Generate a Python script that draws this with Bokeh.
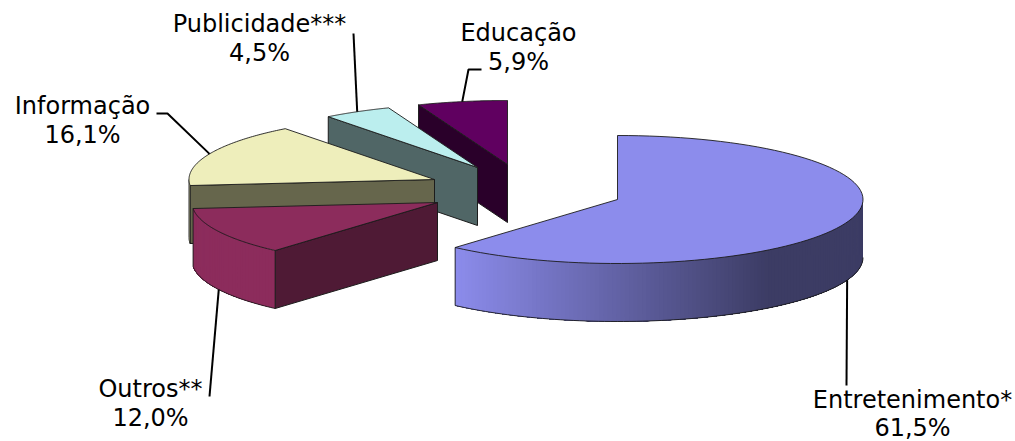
import numpy as np
from bokeh.plotting import figure
from bokeh.models import Range1d
from bokeh.core.properties import value
from bokeh.embed import file_html
from bokeh.resources import INLINE

# ---- data ----
categories = ["Entretenimento*", "Outros**", "Informação", "Publicidade***", "Educação"]
shares = [61.5, 12.0, 16.1, 4.5, 5.9]

# ---- style / layout (not data) ----
top_colors = ["#8c8cec", "#8c2c5c", "#eeeebb", "#bbeeee", "#600060"]
cut_colors = ["#3c3c64", "#4f1a35", "#66664c", "#506666", "#2a002a"]
centers_x = [617, 437, 434, 477, 507]
centers_y = [199, 202, 179, 167, 164]
RX, RY, DEPTH = 245.5, 64, 58
label_x = [912, 150, 82, 259, 518]
label_y = [399, 388, 105, 23, 32]
line_gap = [28, 29.5, 29.5, 29.5, 29.5]
FONT = "DejaVu Sans"
FONT_PX = "24px"
leader_from = [[(846, 385)], [(209, 396)], [(156, 113), (167, 113)], [(353, 33)], [(481, 69), (468, 69)]]
OUT = "#1c1c1c"

p = figure(width=1015, height=441, x_range=Range1d(0, 1015), y_range=Range1d(441, 0),
           x_axis_location=None, y_axis_location=None, toolbar_location=None,
           output_backend="svg", min_border=0, outline_line_color=None,
           background_fill_color="white", border_fill_color="white")
p.grid.visible = False


def arc(cx, cy, a, b, n=90):
    t = np.radians(np.linspace(a, b, n))
    return cx + RX * np.sin(t), cy - RY * np.cos(t)


def hexmix(c1, c2, t):
    a = np.array([int(c1[i:i + 2], 16) for i in (1, 3, 5)], float)
    b = np.array([int(c2[i:i + 2], 16) for i in (1, 3, 5)], float)
    m = a + (b - a) * t
    return "#%02x%02x%02x" % tuple(int(round(v)) for v in m)


def outline(xs, ys):
    p.line(list(xs), list(ys), line_color=OUT, line_width=1, line_alpha=0.9)


edges = np.concatenate([[0], np.cumsum(shares)]) * 3.6
anchors = []
for i in range(len(shares) - 1, -1, -1):
    a, b = edges[i], edges[i + 1]
    cx, cy = centers_x[i], centers_y[i]
    ex, ey = arc(cx, cy, a, b)

    # cut faces that turn towards the viewer
    if np.sin(np.radians(a)) < 0:
        rx, ry = arc(cx, cy, a, a, 1)
        qx = [cx, rx[0], rx[0], cx]
        qy = [cy, ry[0], ry[0] + DEPTH, cy + DEPTH]
        p.patch(qx, qy, fill_color=cut_colors[i], line_color=OUT, line_width=1, line_join="round")

    # outer rim, front half only; strips overlap so that no seams show
    lo, hi = max(a, 90), min(b, 270)
    if lo < hi:
        n = max(int(hi - lo), 2)
        ang = np.linspace(lo, hi, n + 1)
        for j in range(n):
            sx, sy = arc(cx, cy, hi if i != 0 else ang[j], ang[j] if i != 0 else hi, 60)
            if i == 0:
                mid = sx[0]
                t = np.clip((mid - 455) / (770 - 455), 0, 1)
                col = hexmix(top_colors[0], cut_colors[0], t)
            else:
                col = top_colors[i]
            p.patch(np.r_[sx, sx[::-1]], np.r_[sy, sy[::-1] + DEPTH],
                    fill_color=col, line_color=None)
        rx, ry = arc(cx, cy, lo, hi)
        outline(rx, ry + DEPTH)
        if lo == a:
            outline([rx[0], rx[0]], [ry[0], ry[0] + DEPTH])
        outline([rx[-1], rx[-1]], [ry[-1], ry[-1] + DEPTH])

    # top face
    p.patch(np.r_[cx, ex], np.r_[cy, ey], fill_color=top_colors[i],
            line_color=OUT, line_width=1, line_alpha=0.9, line_join="round")

    # leader target: middle of the arc, on the rim if the arc is in front
    mid = 0.5 * (a + b)
    ax, ay = arc(cx, cy, mid, mid, 1)
    if np.cos(np.radians(mid)) < 0:
        ay = ay + DEPTH
    anchors.append((i, float(ax[0]), float(ay[0])))

for i, ax, ay in anchors:
    pts = leader_from[i] + [(ax, ay)]
    p.line([q[0] for q in pts], [q[1] for q in pts], line_color="#000000", line_width=2)

for i, name in enumerate(categories):
    pct = f"{shares[i]:.1f}".replace(".", ",") + "%"
    p.text([label_x[i], label_x[i]], [label_y[i], label_y[i] + line_gap[i]], text=[name, pct],
           text_font=value(FONT), text_font_size=value(FONT_PX), text_color="#000000",
           text_align="center", text_baseline="middle")

open("out.html", "w").write(file_html(p, INLINE))
